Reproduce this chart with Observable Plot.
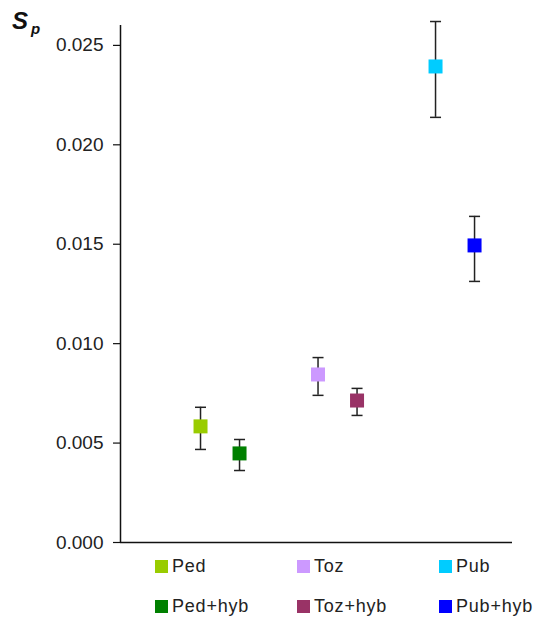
<!DOCTYPE html>
<html><head><meta charset="utf-8">
<script src="https://cdn.jsdelivr.net/npm/d3@7"></script>
<script src="https://cdn.jsdelivr.net/npm/@observablehq/plot@0.6"></script>
<style>
body{margin:0;background:#fff;width:535px;height:618px;position:relative;overflow:hidden;font-family:"Liberation Sans",Arial,sans-serif;}
#chart{position:absolute;left:0;top:0;}
.title{position:absolute;left:12px;top:6px;font-style:italic;font-weight:bold;font-size:24px;color:#111;line-height:30px;}
.title sub{font-size:15px;vertical-align:-5px;margin-left:3px;}
.item{position:absolute;display:flex;align-items:center;font-size:18px;color:#222;line-height:16px;white-space:nowrap;letter-spacing:0.8px;}
.sw{width:13px;height:13px;margin-right:4px;}
</style></head><body>
<div id="chart"></div>
<div class="title">S<sub>p</sub></div>
<div id="legend"></div>
<script>
const categories = ["Ped","Ped+hyb","Toz","Toz+hyb","Pub","Pub+hyb"];
const means = [0.00584,0.00448,0.00845,0.00714,0.02394,0.01494];
const upper = [0.0068,0.00518,0.0093,0.00775,0.0262,0.0164];
const lower = [0.00468,0.00362,0.0074,0.00639,0.02138,0.01313];
const colors = ["#99cc00","#008000","#cc99ff","#993366","#00ccff","#0000ff"];
const yTicks = [0,0.005,0.010,0.015,0.020,0.025];

// position on x: group index plus a within-pair offset
const data = categories.map((c,i)=>({
  cat:c, xpos: Math.floor(i/2) + (i%2)*0.332,
  mean:means[i], lo:lower[i], hi:upper[i], color:colors[i]
}));
const xDomain = [-0.681, 2.655];
const yDomain = [0, 0.026];

const capSymbol = {draw(ctx){ ctx.moveTo(-5.5,0); ctx.lineTo(5.5,0); }};

const chart = Plot.plot({
  width:535, height:562,
  marginLeft:120, marginRight:23, marginTop:25, marginBottom:20,
  style:{fontFamily:"Liberation Sans, Arial, sans-serif", fontSize:"19px", color:"#222", background:"#fff"},
  x:{domain:xDomain, axis:null},
  y:{domain:yDomain, axis:null},
  color:{type:"identity"},
  marks:[
    Plot.ruleY([0], {stroke:"#111", strokeWidth:1.5}),
    Plot.ruleX([xDomain[0]], {y1:0, y2:yDomain[1], stroke:"#111", strokeWidth:1.5}),
    Plot.axisY({ticks:yTicks, tickFormat:d3.format(".3f"), tickSize:7, tickPadding:10, fontSize:19, stroke:"#111", strokeWidth:1.2, label:null}),
    Plot.ruleX(data, {x:"xpos", y1:"lo", y2:"hi", stroke:"#222", strokeWidth:1.5}),
    Plot.dot(data, {x:"xpos", y:"lo", symbol:capSymbol, stroke:"#222", strokeWidth:1.5, fill:"none", r:5}),
    Plot.dot(data, {x:"xpos", y:"hi", symbol:capSymbol, stroke:"#222", strokeWidth:1.5, fill:"none", r:5}),
    Plot.dot(data, {x:"xpos", y:"mean", symbol:"square", r:7.9, fill:"color", stroke:null})
  ]
});
document.getElementById("chart").appendChild(chart);

const legend = document.getElementById("legend");
categories.forEach((c,i)=>{
  const col = Math.floor(i/2), row = i%2;
  const it = document.createElement("div");
  it.className="item";
  it.style.left = (155 + col*142) + "px";
  it.style.top = (558 + row*40) + "px";
  it.innerHTML = `<span class="sw" style="background:${colors[i]}"></span><span>${c}</span>`;
  legend.appendChild(it);
});
</script>
</body></html>
